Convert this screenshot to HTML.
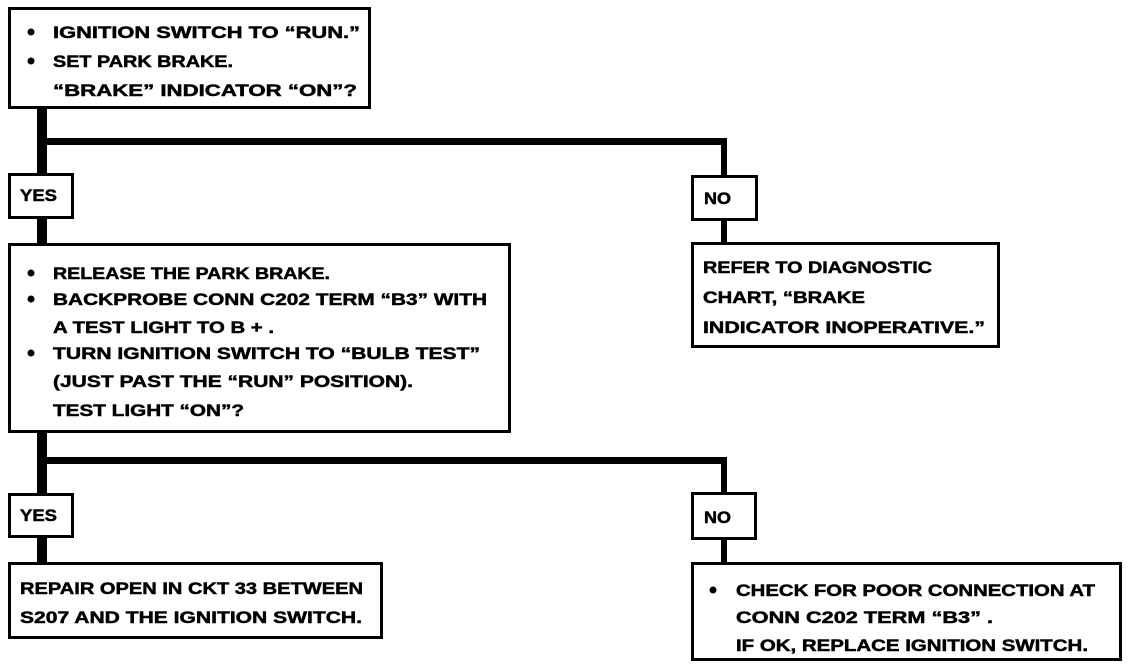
<!DOCTYPE html>
<html><head><meta charset="utf-8"><style>
html,body{margin:0;padding:0;background:#fff;width:1136px;height:672px;overflow:hidden}
svg text{font-family:"Liberation Sans",sans-serif;font-weight:bold;font-size:17px;fill:#000;stroke:#000;stroke-width:0.5}
</style></head><body>
<svg width="1136" height="672" viewBox="0 0 1136 672" xmlns="http://www.w3.org/2000/svg">
<g fill="none" stroke="#000" stroke-width="3">
<rect x="9.5" y="8.5" width="360" height="99"/>
<rect x="9.5" y="174.5" width="63" height="43"/>
<rect x="692.5" y="176.5" width="64" height="43"/>
<rect x="9.5" y="244.5" width="500" height="187"/>
<rect x="692.5" y="243.5" width="306" height="103"/>
<rect x="9.5" y="494.5" width="63" height="42"/>
<rect x="692.5" y="493.5" width="63" height="45"/>
<rect x="9.5" y="563.5" width="372" height="74"/>
<rect x="692.5" y="563.5" width="428" height="96"/>
</g>
<g fill="#000">
<rect x="37" y="108" width="10" height="66"/>
<rect x="37" y="218" width="10" height="26"/>
<rect x="37" y="432" width="10" height="62"/>
<rect x="37" y="537" width="10" height="26"/>
<rect x="40" y="138" width="687" height="7"/>
<rect x="721" y="138" width="6" height="38"/>
<rect x="721" y="220" width="6" height="23"/>
<rect x="40" y="457" width="687" height="7"/>
<rect x="721" y="457" width="6" height="36"/>
<rect x="721" y="539" width="6" height="24"/>
<circle cx="31" cy="32" r="3.5"/><circle cx="31" cy="61" r="3.5"/>
<circle cx="31" cy="273" r="3.5"/><circle cx="31" cy="299" r="3.5"/><circle cx="31" cy="353" r="3.5"/>
<circle cx="713" cy="590" r="3.5"/>
</g>
<text x="53" y="38" textLength="307" lengthAdjust="spacingAndGlyphs">IGNITION SWITCH TO “RUN.”</text>
<text x="53" y="67" textLength="180" lengthAdjust="spacingAndGlyphs">SET PARK BRAKE.</text>
<text x="53" y="96" textLength="304" lengthAdjust="spacingAndGlyphs">“BRAKE” INDICATOR “ON”?</text>
<text x="20" y="201" textLength="37" lengthAdjust="spacingAndGlyphs">YES</text>
<text x="704" y="204" textLength="27" lengthAdjust="spacingAndGlyphs">NO</text>
<text x="53" y="279" textLength="277" lengthAdjust="spacingAndGlyphs">RELEASE THE PARK BRAKE.</text>
<text x="53" y="305" textLength="434" lengthAdjust="spacingAndGlyphs">BACKPROBE CONN C202 TERM “B3” WITH</text>
<text x="53" y="333" textLength="221" lengthAdjust="spacingAndGlyphs">A TEST LIGHT TO B + .</text>
<text x="53" y="359" textLength="427" lengthAdjust="spacingAndGlyphs">TURN IGNITION SWITCH TO “BULB TEST”</text>
<text x="53" y="387" textLength="360" lengthAdjust="spacingAndGlyphs">(JUST PAST THE “RUN” POSITION).</text>
<text x="53" y="416" textLength="191" lengthAdjust="spacingAndGlyphs">TEST LIGHT “ON”?</text>
<text x="703" y="273" textLength="229" lengthAdjust="spacingAndGlyphs">REFER TO DIAGNOSTIC</text>
<text x="703" y="303" textLength="162" lengthAdjust="spacingAndGlyphs">CHART, “BRAKE</text>
<text x="703" y="333" textLength="282" lengthAdjust="spacingAndGlyphs">INDICATOR INOPERATIVE.”</text>
<text x="20" y="521" textLength="37" lengthAdjust="spacingAndGlyphs">YES</text>
<text x="704" y="523" textLength="27" lengthAdjust="spacingAndGlyphs">NO</text>
<text x="20" y="594" textLength="343" lengthAdjust="spacingAndGlyphs">REPAIR OPEN IN CKT 33 BETWEEN</text>
<text x="20" y="623" textLength="342" lengthAdjust="spacingAndGlyphs">S207 AND THE IGNITION SWITCH.</text>
<text x="736" y="596" textLength="359" lengthAdjust="spacingAndGlyphs">CHECK FOR POOR CONNECTION AT</text>
<text x="736" y="623" textLength="257" lengthAdjust="spacingAndGlyphs">CONN C202 TERM “B3” .</text>
<text x="736" y="651" textLength="352" lengthAdjust="spacingAndGlyphs">IF OK, REPLACE IGNITION SWITCH.</text>
</svg>
</body></html>
